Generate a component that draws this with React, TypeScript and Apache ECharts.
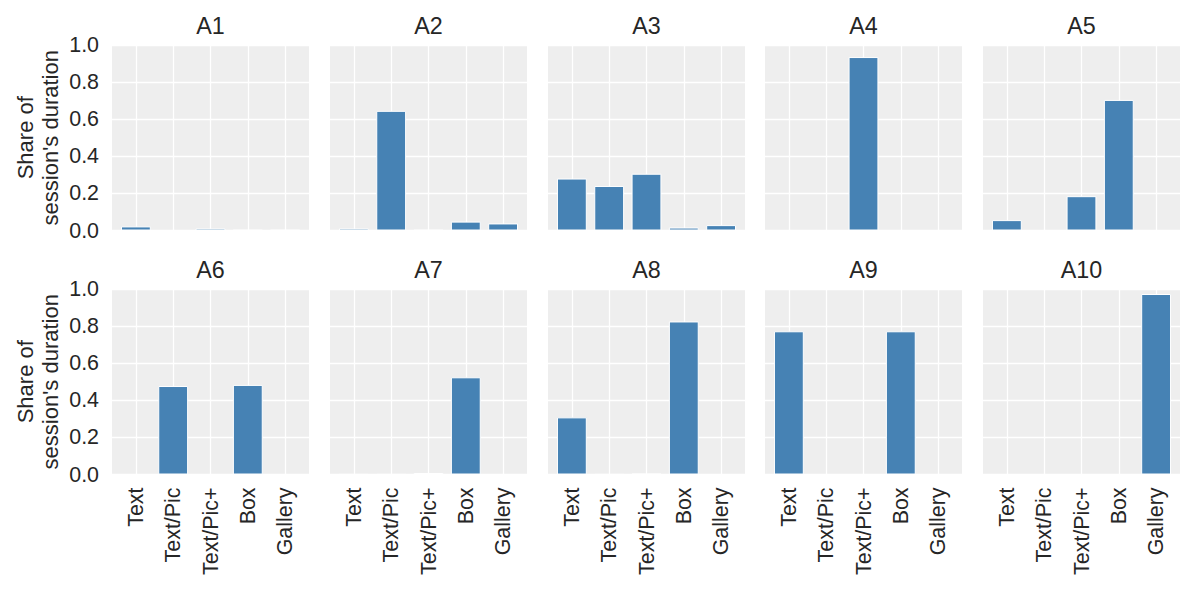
import React, { useEffect, useRef } from "react";
import * as echarts from "echarts";

const categories = ["Text", "Text/Pic", "Text/Pic+", "Box", "Gallery"];
const panelNames = ["A1", "A2", "A3", "A4", "A5", "A6", "A7", "A8", "A9", "A10"];
const a1 = [0.022, 0.0, 0.011, 0.003, 0.003];
const a2 = [0.011, 0.645, 0.003, 0.048, 0.038];
const a3 = [0.28, 0.24, 0.306, 0.016, 0.029];
const a4 = [0.0, 0.0, 0.935, 0.0, 0.0];
const a5 = [0.056, 0.0, 0.185, 0.704, 0.0];
const a6 = [0.0, 0.477, 0.0, 0.483, 0.0];
const a7 = [0.001, 0.001, 0.008, 0.524, 0.0];
const a8 = [0.308, 0.001, 0.004, 0.825, 0.0];
const a9 = [0.772, 0.0, 0.0, 0.772, 0.0];
const a10 = [0.0, 0.0, 0.0, 0.0, 0.973];
const panelValues = [a1, a2, a3, a4, a5, a6, a7, a8, a9, a10];
const yLabel = "Share of\nsession's duration";

const FONT = "'Liberation Sans', Arial, sans-serif";
const TEXT = "#262626";

export default function App() {
  const ref = useRef<HTMLDivElement>(null);
  useEffect(() => {
    if (!ref.current) return;
    const chart = echarts.init(ref.current, null, { renderer: "svg" });
    const lefts = [112, 330, 548, 765, 983];
    const tops = [45, 289];
    const W = 197;
    const H = 185.5;
    const xMin = -0.64;
    const xMax = 4.64;
    const barW = (0.8 * W) / (xMax - xMin);
    const grids: any[] = [];
    const xAxes: any[] = [];
    const yAxes: any[] = [];
    const series: any[] = [];
    const titles: any[] = [];
    panelValues.forEach((vals, i) => {
      const r = Math.floor(i / 5);
      const c = i % 5;
      grids.push({
        left: lefts[c],
        top: tops[r],
        width: W,
        height: H,
        show: true,
        backgroundColor: "#eeeeee",
        borderWidth: 0,
      });
      xAxes.push({
        type: "value",
        gridIndex: i,
        min: xMin,
        max: xMax,
        axisLine: { show: false },
        axisTick: { show: false, customValues: [0, 1, 2, 3, 4] },
        axisLabel: {
          show: r === 1,
          customValues: [0, 1, 2, 3, 4],
          rotate: 90,
          margin: 13,
          fontSize: 21.4,
          fontFamily: FONT,
          color: TEXT,
          formatter: (v: number) => categories[Math.round(v)] ?? "",
        },
        splitLine: { show: true, lineStyle: { color: "#ffffff", width: 1.3 } },
      });
      yAxes.push({
        type: "value",
        gridIndex: i,
        min: 0,
        max: 1,
        interval: 0.2,
        axisLine: { show: false },
        axisTick: { show: false },
        axisLabel: {
          show: c === 0,
          margin: 13,
          fontSize: 21.4,
          fontFamily: FONT,
          color: TEXT,
          formatter: (v: number) => v.toFixed(1),
        },
        splitLine: { show: true, lineStyle: { color: "#ffffff", width: 1.3 } },
        name: c === 0 ? yLabel : "",
        nameLocation: "middle",
        nameRotate: 90,
        nameGap: 49.5,
        nameTextStyle: { fontSize: 22, fontFamily: FONT, color: TEXT, lineHeight: 25 },
      });
      series.push({
        type: "bar",
        xAxisIndex: i,
        yAxisIndex: i,
        barWidth: barW,
        data: vals.map((v, k) => [k, v]),
        itemStyle: { color: "#4682b4", borderColor: "#ffffff", borderWidth: 1 },
      });
      titles.push({
        text: panelNames[i],
        left: lefts[c] + W / 2,
        top: tops[r] - 31,
        textAlign: "center",
        padding: 0,
        textStyle: { fontSize: 23.3, fontWeight: "normal", fontFamily: FONT, color: TEXT },
      });
    });
    chart.setOption({
      animation: false,
      backgroundColor: "#ffffff",
      title: titles,
      grid: grids,
      xAxis: xAxes,
      yAxis: yAxes,
      series,
    });
    return () => chart.dispose();
  }, []);
  return (
    <div
      ref={ref}
      style={{ position: "fixed", left: 0, top: 0, width: 1200, height: 600 }}
    />
  );
}
